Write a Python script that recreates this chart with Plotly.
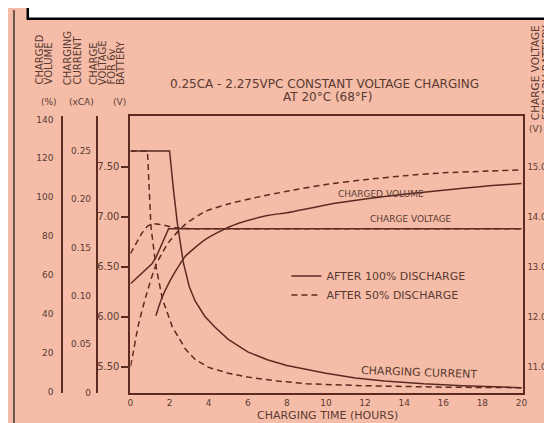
import plotly.graph_objects as go

W, H = 552, 423

# ---------------- data ----------------
volt100_h = [0, 0.5, 1.1, 1.3, 1.5, 1.7, 1.95, 20]
volt100_v = [6.33, 6.42, 6.53, 6.59, 6.68, 6.78, 6.88, 6.88]

volt50_h = [0, 0.3, 0.6, 0.9, 1.2, 1.6, 2.2, 3.0, 20]
volt50_v = [6.63, 6.74, 6.84, 6.91, 6.93, 6.92, 6.89, 6.88, 6.88]

curr100_h = [0, 2.0, 2.2, 2.4, 2.7, 3.0, 3.3, 3.8, 4.3, 5.0, 6.0, 7.0, 8.0, 9.0, 10, 11.5, 13, 15, 17, 20]
curr100_ca = [0.25, 0.25, 0.21, 0.175, 0.135, 0.11, 0.095, 0.079, 0.068, 0.055, 0.042, 0.034,
              0.028, 0.024, 0.020, 0.015, 0.012, 0.009, 0.007, 0.005]

curr50_h = [0, 0.87, 0.96, 1.05, 1.3, 1.63, 2.14, 2.81, 3.32, 4.0, 5.0, 6.0, 7.5, 9, 12, 16, 20]
curr50_ca = [0.25, 0.25, 0.21, 0.171, 0.131, 0.097, 0.068, 0.045, 0.034, 0.026, 0.020, 0.016,
             0.012, 0.009, 0.007, 0.0055, 0.005]

vol100_h = [1.3, 1.6, 2.0, 2.4, 2.8, 3.3, 3.8, 4.5, 5.5, 7, 8, 10, 12, 14, 16, 18, 20]
vol100_pct = [39, 48, 56.5, 63.5, 69.5, 74, 78, 82, 86.4, 90.5, 92, 96, 99, 101.5, 103.5, 105.5, 107]

vol50_h = [0, 0.12, 0.4, 0.79, 1.3, 1.97, 2.8, 3.8, 5.0, 6.5, 8, 10, 12, 14, 16, 18, 20]
vol50_pct = [13, 19, 34, 49, 65, 77, 86, 92.5, 96.5, 100, 103, 106.5, 109, 111, 112.5, 113.3, 114]

x_ticks = [0, 2, 4, 6, 8, 10, 12, 14, 16, 18, 20]
pct_ticks = [0, 20, 40, 60, 80, 100, 120, 140]
ca_ticks = [0, 0.05, 0.10, 0.15, 0.20, 0.25]
ca_labels = ["0", "0.05", "0.10", "0.15", "0.20", "0.25"]
v6_ticks = [5.5, 6.0, 6.5, 7.0, 7.5]
v6_labels = ["5.50", "6.00", "6.50", "7.00", "7.50"]
v12_ticks = [11, 12, 13, 14, 15]
v12_labels = ["11.0", "12.0", "13.0", "14.0", "15.0"]

# ---------------- style ----------------
BG = "#F5BDA8"
LINE = "#5B2A20"
TXT = "#5A3A32"
FONT = "DejaVu Sans"
DASH = "6px,4px"


def fx(px):
    return px / W


def fy(py):
    return 1 - py / H


fig = go.Figure()

fig.add_trace(go.Scatter(x=vol100_h, y=vol100_pct, yaxis="y2", mode="lines",
                         line=dict(color=LINE, width=1.5, shape="spline", smoothing=0.6),
                         name="AFTER 100% DISCHARGE", showlegend=True))
fig.add_trace(go.Scatter(x=vol50_h, y=vol50_pct, yaxis="y2", mode="lines",
                         line=dict(color=LINE, width=1.5, dash=DASH, shape="spline", smoothing=0.6),
                         name="AFTER 50% DISCHARGE", showlegend=True))
fig.add_trace(go.Scatter(x=volt100_h, y=volt100_v, yaxis="y", mode="lines",
                         line=dict(color=LINE, width=1.5), showlegend=False))
fig.add_trace(go.Scatter(x=volt50_h, y=volt50_v, yaxis="y", mode="lines",
                         line=dict(color=LINE, width=1.5, dash=DASH), showlegend=False))
fig.add_trace(go.Scatter(x=curr100_h, y=curr100_ca, yaxis="y3", mode="lines",
                         line=dict(color=LINE, width=1.5), showlegend=False))
fig.add_trace(go.Scatter(x=curr50_h, y=curr50_ca, yaxis="y3", mode="lines",
                         line=dict(color=LINE, width=1.5, dash=DASH), showlegend=False))
fig.add_trace(go.Scatter(x=[None], y=[None], yaxis="y4", showlegend=False))

dom_y = [fy(389), fy(108)]


def tf(size):
    return dict(family=FONT, size=size, color=TXT)


fig.update_layout(
    width=W, height=H,
    margin=dict(l=0, r=0, t=0, b=0),
    paper_bgcolor=BG, plot_bgcolor="rgba(0,0,0,0)",
    font=dict(family=FONT, color=TXT, size=10),
    xaxis=dict(domain=[fx(121), fx(519)], range=[0, 20.1], tickvals=x_ticks,
               showline=True, linecolor=LINE, linewidth=2, mirror=True,
               ticks="", showgrid=False, zeroline=False, tickfont=tf(9)),
    yaxis=dict(domain=dom_y, range=[5.234, 8.0], tickvals=v6_ticks, ticktext=v6_labels,
               showline=True, linecolor=LINE, linewidth=2, mirror=True,
               ticks="outside", ticklen=7, tickwidth=1.5, tickcolor=LINE,
               showgrid=False, zeroline=False, tickfont=tf(10)),
    yaxis2=dict(overlaying="y", anchor="free", position=fx(52), side="left",
                range=[-1.0, 141.5], tickvals=pct_ticks,
                showline=True, linecolor=LINE, linewidth=2, ticks="",
                ticklabelstandoff=6,
                showgrid=False, zeroline=False, tickfont=tf(9)),
    yaxis3=dict(overlaying="y", anchor="free", position=fx(87), side="left",
                range=[-0.001, 0.2857], tickvals=ca_ticks, ticktext=ca_labels,
                showline=True, linecolor=LINE, linewidth=2, ticks="",
                ticklabelstandoff=3,
                showgrid=False, zeroline=False, tickfont=tf(9)),
    yaxis4=dict(overlaying="y", anchor="x", side="right",
                range=[10.468, 16.0], tickvals=v12_ticks, ticktext=v12_labels,
                showline=False, ticks="", ticklabelstandoff=3,
                showgrid=False, zeroline=False, tickfont=tf(8.5)),
    legend=dict(x=fx(279), y=fy(255), xanchor="left", yanchor="top",
                bgcolor="rgba(0,0,0,0)", borderwidth=0, tracegroupgap=0,
                font=tf(11), itemwidth=30),
    showlegend=True,
)

ann = []


def add_text(text, x, y, size=10, angle=0, xa="center", ya="middle"):
    ann.append(dict(text=text, x=fx(x), y=fy(y), xref="paper", yref="paper",
                    showarrow=False, textangle=angle, xanchor=xa, yanchor=ya,
                    font=tf(size)))


# title
add_text("0.25CA - 2.275VPC CONSTANT VOLTAGE CHARGING", 318, 75, size=12)
add_text("AT 20°C (68°F)", 321, 88, size=12)

# in-plot labels
add_text("CHARGED VOLUME", 375, 187, size=9)
add_text("CHARGE VOLTAGE", 405, 212, size=9)
add_text("CHARGING CURRENT", 413, 368, size=11, angle=2)

# x axis title
add_text("CHARGING TIME (HOURS)", 321, 411, size=11)

# rotated axis titles (each line separate)
for txt, x in [("CHARGED", 29), ("VOLUME", 38),
               ("CHARGING", 58), ("CURRENT", 67),
               ("CHARGE", 84), ("VOLTAGE", 93), ("FOR 6v", 102), ("BATTERY", 111)]:
    add_text(txt, x, 78, size=10, angle=-90, ya="bottom")
for txt, x in [("CHARGE VOLTAGE", 531), ("FOR 12V BATTERY", 542)]:
    add_text(txt, x, 114, size=10.5, angle=-90, ya="bottom")

# units
add_text("(%)", 38, 93, size=9)
add_text("(xCA)", 71, 93, size=9)
add_text("(V)", 110, 93, size=9)
add_text("(V)", 531, 121, size=9)

fig.update_layout(annotations=ann)

fig.update_layout(shapes=[
    dict(type="rect", xref="paper", yref="paper", x0=fx(17), x1=1.02, y0=fy(9), y1=1.02,
         fillcolor="white", line=dict(color="black", width=2.5), layer="above"),
    dict(type="line", xref="paper", yref="paper", x0=fx(3), x1=fx(3), y0=0, y1=1,
         line=dict(color="#6B5650", width=2), layer="above"),
])

fig.write_html("out.html")
